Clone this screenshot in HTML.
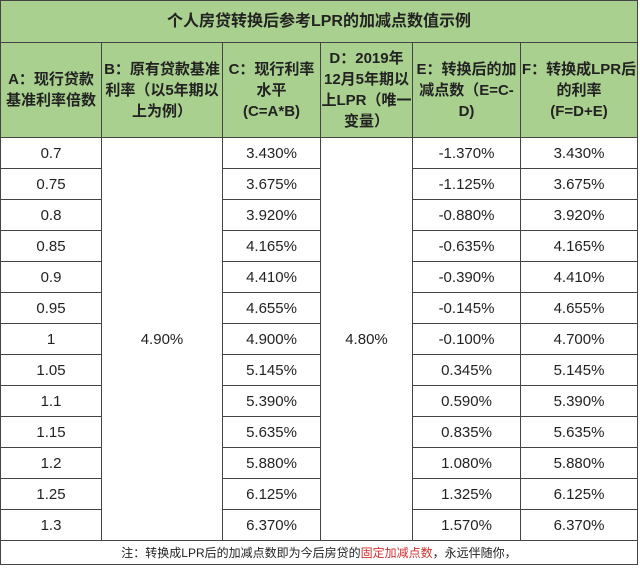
<!DOCTYPE html>
<html><head><meta charset="utf-8"><style>
body{margin:0;width:640px;height:569px;background:#fff;overflow:hidden}
table{position:absolute;left:0;top:0;border-collapse:collapse;table-layout:fixed;font-family:"Liberation Sans","Noto Sans CJK SC",sans-serif;color:#222}
td{border:1px solid #444;text-align:center;padding:0;font-size:15px}
.g{background:#a9d08e;font-weight:bold;font-size:15px;line-height:21px}
.t{height:41px;font-size:16px}
.h{height:94px}
.r td{height:30px}
.f td{height:23px;font-size:12px}
.red{color:#d03030}
</style></head><body>
<table>
<colgroup><col style="width:101px"><col style="width:121px"><col style="width:98px"><col style="width:92px"><col style="width:108px"><col style="width:117px"></colgroup>
<tr><td colspan="6" class="g t">个人房贷转换后参考LPR的加减点数值示例</td></tr>
<tr class="g">
<td class="g h">A：现行贷款<br>基准利率倍数</td>
<td class="g h">B：原有贷款基准<br>利率（以5年期以<br>上为例）</td>
<td class="g h">C：现行利率<br>水平<br>(C=A*B)</td>
<td class="g h">D：2019年<br>12月5年期以<br>上LPR（唯一<br>变量）</td>
<td class="g h">E：转换后的加<br>减点数（E=C-<br>D)</td>
<td class="g h">F：转换成LPR后<br>的利率<br>(F=D+E)</td>
</tr>
<tbody id="body"></tbody>
<tr class="f"><td colspan="6">注：转换成LPR后的加减点数即为今后房贷的<span class="red">固定加减点数</span>，永远伴随你，</td></tr>
</table>
<script>
const multipliers=["0.7","0.75","0.8","0.85","0.9","0.95","1","1.05","1.1","1.15","1.2","1.25","1.3"];
const currentRates=["3.430%","3.675%","3.920%","4.165%","4.410%","4.655%","4.900%","5.145%","5.390%","5.635%","5.880%","6.125%","6.370%"];
const spreads=["-1.370%","-1.125%","-0.880%","-0.635%","-0.390%","-0.145%","-0.100%","0.345%","0.590%","0.835%","1.080%","1.325%","1.570%"];
const lprRates=["3.430%","3.675%","3.920%","4.165%","4.410%","4.655%","4.700%","5.145%","5.390%","5.635%","5.880%","6.125%","6.370%"];
const baseRate="4.90%";
const lpr="4.80%";
const tb=document.getElementById('body');
multipliers.forEach((m,i)=>{
  const tr=document.createElement('tr');tr.className='r';
  
  
  const add=(txt,name,rs)=>{const td=document.createElement('td');td.textContent=txt;if(rs)td.rowSpan=rs;
    
    
    tr.appendChild(td);};
  add(m,'multiplier-cell');
  if(i===0)add(baseRate,'base-rate-cell',multipliers.length);
  add(currentRates[i],'current-rate-cell');
  if(i===0)add(lpr,'lpr-cell',multipliers.length);
  add(spreads[i],'spread-cell');
  add(lprRates[i],'lpr-rate-cell');
  tb.appendChild(tr);
});
</script>
</body></html>
